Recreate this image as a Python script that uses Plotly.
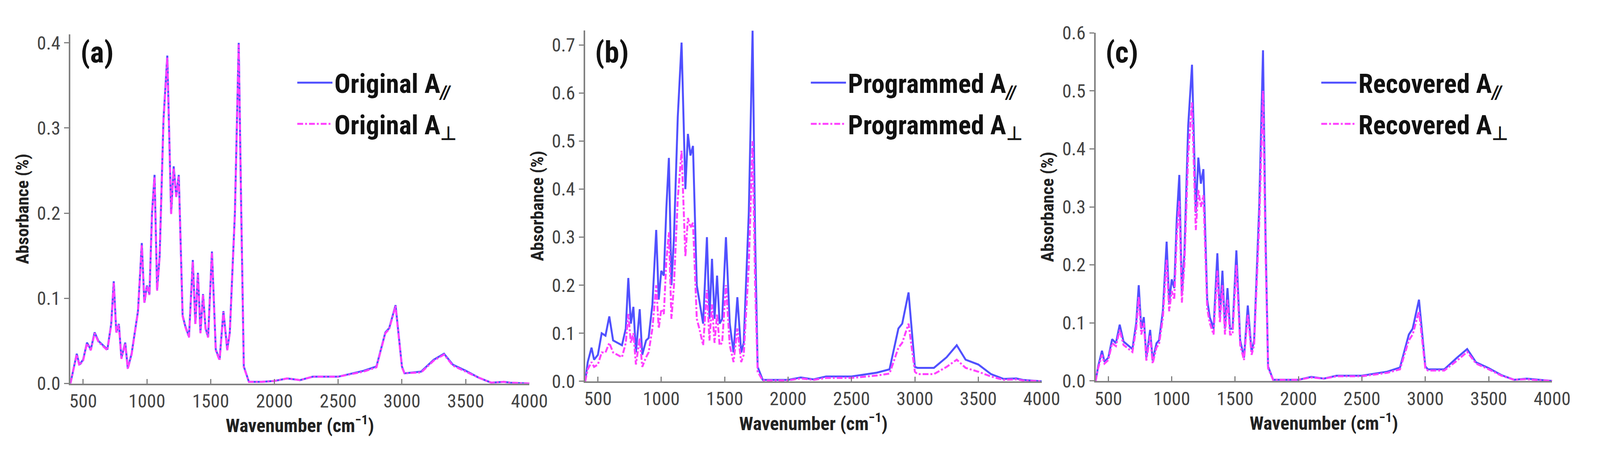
import plotly.graph_objects as go

wavenumber = [400,420,450,470,500,530,560,590,620,690,720,740,760,780,800,830,850,880,900,930,
              960,980,1000,1020,1040,1060,1080,1100,1130,1160,1190,1210,1230,1250,1280,1300,1330,1360,1380,1400,
              1420,1440,1460,1480,1510,1540,1570,1600,1630,1650,1690,1720,1740,1760,1800,1900,2000,2100,2200,2300,
              2500,2700,2800,2870,2900,2950,3000,3020,3150,3250,3330,3400,3500,3600,3700,3800,3850,4000]

orig_par = [0,0.015,0.035,0.022,0.028, 0.048,0.04,0.06,0.05,0.04, 0.07,0.12,0.06,0.07,0.03,
            0.048,0.018,0.035,0.055,0.085, 0.165,0.095,0.115,0.105,0.2, 0.245,0.11,0.15,0.31,0.385,
            0.2,0.255,0.22,0.245,0.08, 0.068,0.055,0.145,0.07,0.13, 0.06,0.105,0.065,0.055,0.155,
            0.04,0.028,0.085,0.04,0.06, 0.2,0.4,0.2,0.02,0.002, 0.002,0.003,0.006,0.004,0.008,
            0.008,0.015,0.02,0.06,0.065, 0.092,0.02,0.012,0.014,0.028, 0.035,0.022,0.015,0.007,0.001,
            0.002,0.001,0]
orig_perp = [0,0.014,0.034,0.021,0.027, 0.047,0.039,0.059,0.049,0.039, 0.069,0.118,0.059,0.069,0.029,
             0.047,0.017,0.034,0.054,0.084, 0.163,0.094,0.114,0.104,0.198, 0.243,0.109,0.149,0.308,0.383,
             0.199,0.253,0.219,0.243,0.079, 0.067,0.054,0.143,0.069,0.128, 0.059,0.104,0.064,0.054,0.153,
             0.039,0.027,0.084,0.039,0.059, 0.198,0.398,0.198,0.019,0.002, 0.002,0.003,0.006,0.004,0.008,
             0.008,0.014,0.019,0.059,0.064, 0.091,0.019,0.012,0.013,0.027, 0.034,0.021,0.014,0.007,0.001,
             0.002,0.001,0]

prog_par = [0,0.04,0.07,0.045,0.055, 0.1,0.095,0.135,0.085,0.075, 0.11,0.215,0.12,0.155,0.06,
            0.15,0.055,0.085,0.09,0.16, 0.315,0.17,0.23,0.22,0.36, 0.465,0.2,0.3,0.55,0.705,
            0.4,0.515,0.47,0.49,0.2, 0.17,0.12,0.3,0.13,0.255, 0.13,0.22,0.12,0.13,0.3,
            0.12,0.06,0.175,0.06,0.08, 0.35,0.73,0.3,0.03,0.003, 0.003,0.003,0.008,0.004,0.01,
            0.01,0.018,0.025,0.11,0.12, 0.185,0.03,0.028,0.028,0.05, 0.075,0.045,0.035,0.015,0.005,
            0.006,0.003,0]
prog_perp = [0,0.025,0.04,0.03,0.035, 0.06,0.06,0.08,0.06,0.05, 0.08,0.14,0.08,0.1,0.035,
             0.09,0.03,0.05,0.06,0.11, 0.2,0.11,0.15,0.14,0.25, 0.31,0.13,0.2,0.38,0.48,
             0.26,0.34,0.32,0.33,0.13, 0.11,0.075,0.19,0.085,0.16, 0.08,0.14,0.075,0.08,0.2,
             0.075,0.04,0.11,0.04,0.055, 0.24,0.5,0.2,0.02,0.002, 0.002,0.002,0.006,0.003,0.007,
             0.007,0.012,0.016,0.07,0.08, 0.12,0.02,0.015,0.015,0.03, 0.045,0.028,0.02,0.01,0.003,
             0.004,0.002,0]

rec_par = [0,0.025,0.052,0.033,0.04, 0.072,0.065,0.097,0.068,0.055, 0.1,0.165,0.09,0.11,0.04,
           0.088,0.035,0.065,0.07,0.12, 0.24,0.135,0.175,0.16,0.28, 0.355,0.15,0.22,0.44,0.545,
           0.29,0.385,0.34,0.365,0.14, 0.11,0.09,0.22,0.11,0.19, 0.09,0.16,0.09,0.09,0.225,
           0.07,0.04,0.13,0.05,0.07, 0.3,0.57,0.25,0.025,0.002, 0.002,0.002,0.007,0.004,0.009,
           0.009,0.016,0.023,0.08,0.09, 0.14,0.025,0.02,0.02,0.04, 0.055,0.032,0.022,0.01,0.002,
           0.004,0.003,0]
rec_perp = [0,0.022,0.045,0.03,0.036, 0.065,0.06,0.088,0.062,0.05, 0.09,0.145,0.08,0.1,0.035,
            0.078,0.03,0.058,0.063,0.108, 0.21,0.12,0.155,0.14,0.25, 0.31,0.135,0.2,0.39,0.48,
            0.26,0.33,0.3,0.32,0.125, 0.1,0.08,0.19,0.1,0.165, 0.08,0.14,0.08,0.08,0.2,
            0.062,0.036,0.115,0.045,0.062, 0.27,0.5,0.22,0.022,0.002, 0.002,0.002,0.006,0.004,0.008,
            0.008,0.014,0.02,0.07,0.08, 0.12,0.022,0.018,0.018,0.035, 0.05,0.03,0.02,0.009,0.002,
            0.003,0.002,0]

panels = [
    ("(a)", "Original", orig_par, orig_perp, 0.41, [0, 0.1, 0.2, 0.3, 0.4], 190, 1450, 63, 1004),
    ("(b)", "Programmed", prog_par, prog_perp, 0.73, [0, 0.1, 0.2, 0.3, 0.4, 0.5, 0.6, 0.7], 1603, 2856, 53, 998),
    ("(c)", "Recovered", rec_par, rec_perp, 0.6, [0, 0.1, 0.2, 0.3, 0.4, 0.5, 0.6], 3004, 4257, 59, 997),
]
x_ticks = [500, 1000, 1500, 2000, 2500, 3000, 3500, 4000]

W, H = 4338, 1158
FONT = "Liberation Sans Narrow, Arial Narrow, Roboto Condensed, Liberation Sans, Arial"
BLUE = "#5050FF"
MAGENTA = "#FF40FF"

fig = go.Figure()
layout = dict(autosize=True, margin=dict(l=0, r=0, t=0, b=0),
              paper_bgcolor="white", plot_bgcolor="white",
              font=dict(family=FONT, color="#333333"))
annotations = []
for i, (lab, name, par, perp, ymax, yt, x0, x1, ytop, ybot) in enumerate(panels):
    n = "" if i == 0 else str(i + 1)
    xa, ya = "x" + n, "y" + n
    lg = "legend" + n
    fig.add_trace(go.Scatter(x=wavenumber, y=par, mode="lines", xaxis=xa, yaxis=ya,
                             line=dict(color=BLUE, width=5), legend=lg, legendgroup="p%d" % i,
                             name="<b>%s A<sub><i>//</i></sub></b>" % name))
    fig.add_trace(go.Scatter(x=wavenumber, y=perp, mode="lines", xaxis=xa, yaxis=ya,
                             line=dict(color=MAGENTA, width=5, dash="dashdot"), legend=lg,
                             legendgroup="q%d" % i,
                             name="<b>%s A<sub>⊥</sub></b>" % name))
    dx = [x0 / W, x1 / W]
    dy = [1 - ybot / H, 1 - ytop / H]
    axcommon = dict(showgrid=False, zeroline=False, showline=True, linecolor="#808080", linewidth=4,
                    ticklen=12, tickwidth=3, tickcolor="#808080",
                    tickfont=dict(size=48, family=FONT, color="#444444"))
    layout["xaxis" + n] = dict(domain=dx, range=[400, 4000], tickvals=x_ticks, anchor=ya, ticks="inside",
                               title=dict(text="<b>Wavenumber (cm<sup>−1</sup>)</b>", standoff=10,
                                          font=dict(size=48, family=FONT, color="#222222")),
                               **axcommon)
    layout["yaxis" + n] = dict(domain=dy, range=[0, ymax], tickvals=yt, tickformat=".1f", anchor=xa,
                               ticks="outside",
                               title=dict(text="<b>Absorbance (%)</b>", standoff=8,
                                          font=dict(size=45, family=FONT, color="#222222")),
                               **axcommon)
    layout[lg] = dict(x=(x0 + 0.49 * (x1 - x0)) / W, y=1 - 140 / H, xanchor="left", yanchor="top",
                      bgcolor="rgba(0,0,0,0)", font=dict(size=68, family=FONT, color="#111111"),
                      tracegroupgap=14, itemwidth=90)
    annotations.append(dict(text="<b>%s</b>" % lab, xref="paper", yref="paper",
                            x=(x0 + 25) / W, y=1 - 62 / H, xanchor="left", yanchor="top",
                            showarrow=False, font=dict(size=76, family=FONT, color="#111111")))
layout["annotations"] = annotations
fig.update_layout(**layout)
fig.write_html("out.html", default_width="100vw", default_height="100vh",
               config={"responsive": True, "displayModeBar": False})
with open("out.html", encoding="utf-8") as f:
    html = f.read()
html = html.replace("<head>", "<head><style>html,body{margin:0;padding:0;overflow:hidden;}</style>", 1)
with open("out.html", "w", encoding="utf-8") as f:
    f.write(html)
